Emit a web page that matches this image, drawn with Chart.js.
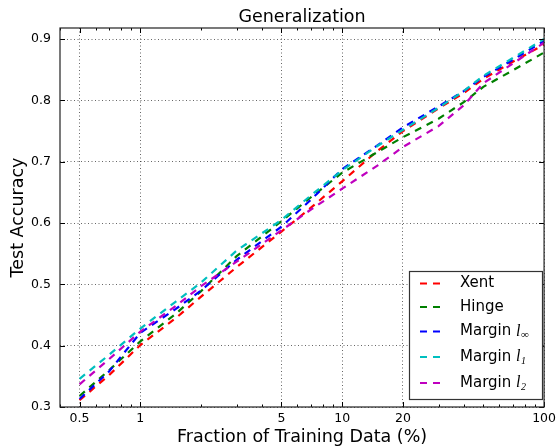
<!DOCTYPE html>
<html>
<head>
<meta charset="utf-8">
<script src="https://cdn.jsdelivr.net/npm/chart.js@4/dist/chart.umd.min.js"></script>
<style>
  html, body { margin: 0; padding: 0; background: #fff; }
  #c { display: block; }
</style>
</head>
<body>
<canvas id="c" width="560" height="448"></canvas>
<script>
// Fraction of training data used (%) and resulting test accuracy per loss
const fractions = [0.5, 0.7, 1, 1.5, 2, 3, 5, 7, 10, 15, 20, 30, 40, 50, 70, 100];
const xent      = [0.311, 0.352, 0.401, 0.445, 0.480, 0.528, 0.586, 0.625, 0.668, 0.718, 0.750, 0.787, 0.812, 0.835, 0.863, 0.891];
const hinge     = [0.318, 0.360, 0.407, 0.452, 0.489, 0.546, 0.603, 0.642, 0.682, 0.716, 0.740, 0.770, 0.797, 0.822, 0.849, 0.878];
const marginInf = [0.313, 0.358, 0.421, 0.460, 0.490, 0.540, 0.594, 0.638, 0.688, 0.727, 0.756, 0.790, 0.815, 0.838, 0.866, 0.897];
const marginL1  = [0.346, 0.385, 0.428, 0.472, 0.503, 0.555, 0.605, 0.645, 0.686, 0.726, 0.752, 0.788, 0.815, 0.840, 0.869, 0.900];
const marginL2  = [0.337, 0.378, 0.423, 0.465, 0.497, 0.537, 0.588, 0.622, 0.656, 0.694, 0.724, 0.758, 0.792, 0.828, 0.860, 0.894];

const seriesNames = ['Xent', 'Hinge', 'Margin l\u221E', 'Margin l1', 'Margin l2'];
const seriesSubs  = [null, null, '\u221E', '1', '2'];
const seriesColors = ['#ff0000', '#008000', '#0000ff', '#00bfbf', '#bf00bf'];
const seriesValues = [xent, hinge, marginInf, marginL1, marginL2];

const xTickValues = [0.5, 1, 5, 10, 20, 100];
const xMinorValues = [0.4, 0.6, 0.7, 0.8, 0.9, 2, 3, 4, 6, 7, 8, 9, 30, 40, 50, 60, 70, 80, 90];
const yTickValues = [0.3, 0.4, 0.5, 0.6, 0.7, 0.8, 0.9];

const SANS = '"DejaVu Sans", "Bitstream Vera Sans", sans-serif';
const DASH = [7, 6];

const datasets = seriesValues.map((vals, i) => ({
  label: seriesNames[i],
  data: fractions.map((f, j) => ({ x: f, y: vals[j] })),
  borderColor: seriesColors[i],
  backgroundColor: seriesColors[i],
  borderWidth: 2.2,
  borderDash: DASH,
  pointRadius: 0,
  tension: 0,
  fill: false,
  order: seriesValues.length - i
}));

// Frame, inward tick marks, title and the boxed legend
const decorations = {
  id: 'decorations',
  afterDatasetsDraw(chart) {
    const { ctx, chartArea: a, scales: { x, y } } = chart;
    ctx.save();

    // ticks pointing into the axes on all four sides
    ctx.strokeStyle = '#000';
    ctx.lineWidth = 1;
    ctx.setLineDash([]);
    ctx.beginPath();
    const vTick = (px, len) => {
      const xp = Math.round(px) + 0.5;
      ctx.moveTo(xp, a.bottom); ctx.lineTo(xp, a.bottom - len);
      ctx.moveTo(xp, a.top); ctx.lineTo(xp, a.top + len);
    };
    xTickValues.forEach(v => vTick(x.getPixelForValue(v), 5));
    xMinorValues.forEach(v => vTick(x.getPixelForValue(v), 2.5));
    yTickValues.forEach(v => {
      const yp = Math.round(y.getPixelForValue(v)) + 0.5;
      ctx.moveTo(a.left, yp); ctx.lineTo(a.left + 5, yp);
      ctx.moveTo(a.right, yp); ctx.lineTo(a.right - 5, yp);
    });
    ctx.stroke();

    // axes frame
    ctx.strokeStyle = '#222';
    ctx.lineWidth = 1.2;
    ctx.strokeRect(a.left, a.top, a.right - a.left, a.bottom - a.top);

    // title
    ctx.fillStyle = '#000';
    ctx.font = '17.5px ' + SANS;
    ctx.textAlign = 'center';
    ctx.textBaseline = 'alphabetic';
    ctx.fillText('Generalization', (a.left + a.right) / 2, 22);

    // legend box
    const bx = 409, by = 271, bw = 133, bh = 128;
    ctx.fillStyle = '#fff';
    ctx.fillRect(bx, by, bw, bh);
    ctx.strokeStyle = '#333';
    ctx.lineWidth = 1.2;
    ctx.strokeRect(bx + 0.5, by + 0.5, bw, bh);

    const rows = [283.5, 307, 331.5, 357, 383];
    ctx.textAlign = 'left';
    ctx.textBaseline = 'middle';
    seriesNames.forEach((name, i) => {
      const ry = rows[i];
      ctx.strokeStyle = seriesColors[i];
      ctx.lineWidth = 2.2;
      ctx.setLineDash(DASH);
      ctx.beginPath();
      ctx.moveTo(420, ry);
      ctx.lineTo(441, ry);
      ctx.stroke();
      ctx.setLineDash([]);

      ctx.fillStyle = '#000';
      ctx.font = '15px ' + SANS;
      const sub = seriesSubs[i];
      if (!sub) {
        ctx.fillText(name, 460, ry);
      } else {
        const head = 'Margin ';
        ctx.fillText(head, 460, ry);
        let cx = 460 + ctx.measureText(head).width;
        ctx.font = 'italic 16px "Liberation Serif", "DejaVu Serif", serif';
        ctx.fillText('l', cx, ry);
        cx += ctx.measureText('l').width + 0.5;
        ctx.font = (sub === '\u221E' ? '11px ' : 'italic 10px ') + '"Liberation Serif", "DejaVu Serif", serif';
        ctx.fillText(sub, cx, ry + 4);
      }
    });
    ctx.restore();
  }
};

const gridColor = 'rgba(0,0,0,0.6)';

new Chart(document.getElementById('c'), {
  type: 'line',
  data: { datasets },
  options: {
    responsive: false,
    animation: false,
    devicePixelRatio: 1,
    layout: { autoPadding: false, padding: { top: 28, right: 11, left: 0, bottom: 0 } },
    plugins: {
      legend: { display: false },
      title: { display: false },
      tooltip: { enabled: false }
    },
    scales: {
      x: {
        type: 'logarithmic',
        min: 0.4,
        max: 100,
        afterBuildTicks(scale) { scale.ticks = xTickValues.map(v => ({ value: v })); },
        afterFit(scale) { scale.height = 41; },
        ticks: {
          autoSkip: false,
          maxRotation: 0,
          padding: 4,
          color: '#000',
          font: { family: SANS, size: 12.5 },
          callback: v => String(v)
        },
        grid: { color: gridColor, lineWidth: 1, drawTicks: false },
        border: { display: false, dash: [1, 2.5] },
        title: {
          display: true,
          text: 'Fraction of Training Data (%)',
          color: '#000',
          font: { family: SANS, size: 17.5 },
          padding: { top: 0, bottom: 0.5 }
        }
      },
      y: {
        type: 'linear',
        min: 0.3,
        max: 0.918,
        afterBuildTicks(scale) { scale.ticks = yTickValues.map(v => ({ value: v })); },
        afterFit(scale) { scale.width = 60; },
        ticks: {
          padding: 9,
          color: '#000',
          font: { family: SANS, size: 12.5 },
          callback: v => Number(v).toFixed(1)
        },
        grid: { color: gridColor, lineWidth: 1, drawTicks: false },
        border: { display: false, dash: [1, 2.5] },
        title: {
          display: true,
          text: 'Test Accuracy',
          color: '#000',
          font: { family: SANS, size: 17.5 },
          padding: { top: 7.5, bottom: 0 }
        }
      }
    }
  },
  plugins: [decorations]
});
</script>
</body>
</html>
